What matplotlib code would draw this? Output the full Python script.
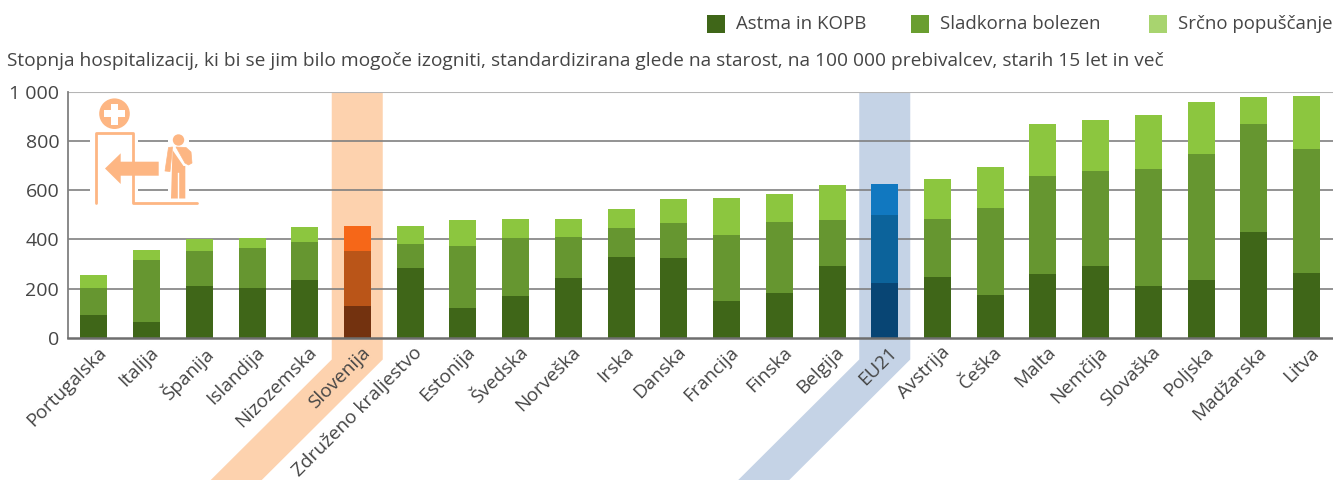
import matplotlib
matplotlib.use('Agg')
import matplotlib.pyplot as plt
import matplotlib.transforms as mtrans
import numpy as np
from matplotlib.patches import Polygon, Circle, Rectangle

plt.rcParams['font.family'] = ['Open Sans', 'DejaVu Sans']

countries = ['Portugalska', 'Italija', 'Španija', 'Islandija', 'Nizozemska', 'Slovenija',
             'Združeno kraljestvo', 'Estonija', 'Švedska', 'Norveška', 'Irska', 'Danska',
             'Francija', 'Finska', 'Belgija', 'EU21', 'Avstrija', 'Češka', 'Malta', 'Nemčija',
             'Slovaška', 'Poljska', 'Madžarska', 'Litva']
# cumulative tops of each segment
astma = [92, 64, 210, 202, 235, 129, 284, 121, 170, 243, 328, 324, 149, 182, 292, 222, 246, 172,
         258, 290, 209, 233, 429, 262]
sladkorna_top = [202, 316, 353, 365, 389, 353, 381, 373, 406, 410, 446, 467, 418, 471, 479, 499,
                 482, 526, 657, 677, 685, 746, 868, 767]
srcno_top = [255, 357, 402, 406, 450, 454, 455, 479, 483, 483, 524, 564, 569, 585, 621, 625, 645,
             693, 868, 885, 905, 958, 978, 982]
yticks = [0, 200, 400, 600, 800, 1000]
ylabels = ['0', '200', '400', '600', '800', '1 000']

W, H = 1333, 480
TEXT = '#454545'
greens = ['#3f6618', '#669630', '#8cc63f']
oranges = ['#73320f', '#ba5518', '#f66718']
blues = ['#084574', '#0c639b', '#1178c0']
legend_colors = ['#3f6618', '#6a9e30', '#a8d46f']


def px_x(x):
    return x / W


def px_y(y):
    return 1 - y / H


fig = plt.figure(figsize=(W / 100, H / 100), dpi=100)
ax = fig.add_axes([px_x(67.5), px_y(337.7), 1 - px_x(67.5), (337.7 - 92) / H])
x = np.arange(len(countries))
ax.set_xlim(-0.5, len(countries) - 0.5)
ax.set_ylim(0, 1000)

# highlight bands run from the top of the plot down and off to the lower left
for name, col in [('Slovenija', '#fdd2ae'), ('EU21', '#c5d3e6')]:
    cx = 93.5 + 52.75 * countries.index(name)
    l, r = cx - 25.5, cx + 25.5
    pts = [(l, 92), (r, 92), (r, 359.5), (r - 121, 480), (l - 121, 480), (l, 359.5)]
    fig.add_artist(Polygon([(px_x(a), px_y(b)) for a, b in pts], closed=True,
                           transform=fig.transFigure, fc=col, ec='none', zorder=0.5))

ax.patch.set_alpha(0)
ax.set_zorder(2)
for t in yticks[1:]:
    ax.axhline(t, color='#b5b5b5' if t == 1000 else '#808080', lw=1.5 if t == 1000 else 1.2,
               zorder=1)

# icon on its own full-figure axes, in pixel units; white blocks cut the gridlines
icon = fig.add_axes([0, 0, 1, 1], zorder=3)
icon.set_xlim(0, W)
icon.set_ylim(H, 0)
icon.axis('off')
ic = '#fdb683'
icon.add_patch(Rectangle((90, 130), 48, 75, fc='white', ec='none'))
icon.add_patch(Rectangle((168, 130), 21, 75, fc='white', ec='none'))
icon.add_patch(Circle((114.5, 113.7), 15.3, fc=ic, ec='none'))
icon.add_patch(Rectangle((104, 110.3), 21, 7, fc='white', ec='none'))
icon.add_patch(Rectangle((111, 103.5), 7, 21, fc='white', ec='none'))
icon.plot([95.7, 95.7, 133.3, 133.3, 197.3], [203, 132.7, 132.7, 202.7, 202.7], color=ic, lw=2.0,
          solid_capstyle='round', solid_joinstyle='round')
icon.add_patch(Polygon([(105, 168.5), (120.7, 153.3), (120.7, 161.7), (158.7, 161.7), (158.7, 175.7),
                        (120.7, 175.7), (120.7, 184)], closed=True, fc=ic, ec='none'))
icon.add_patch(Circle((178.5, 140), 5.7, fc=ic, ec='none'))
icon.add_patch(Polygon([(168.5, 147.5), (172.5, 147), (170, 171.5), (165, 171)], closed=True,
                       fc=ic, ec=ic, lw=0.5, joinstyle='round'))
icon.add_patch(Polygon([(176, 147), (186, 147.5), (191, 152), (192, 163), (188.5, 165), (185, 163)],
                       closed=True, fc=ic, ec=ic, lw=0.5, joinstyle='round'))
icon.add_patch(Polygon([(172.5, 150), (183.5, 166), (185.3, 166), (185.3, 198.5), (171, 198.5)],
                       closed=True, fc=ic, ec='none'))
icon.plot([178.3, 178.3], [173, 199], color='white', lw=1)

bw = 27 / 52.75
for i in range(len(countries)):
    cols = oranges if countries[i] == 'Slovenija' else blues if countries[i] == 'EU21' else greens
    ax.bar(x[i], astma[i], bw, color=cols[0], zorder=2)
    ax.bar(x[i], sladkorna_top[i] - astma[i], bw, bottom=astma[i], color=cols[1], zorder=2)
    ax.bar(x[i], srcno_top[i] - sladkorna_top[i], bw, bottom=sladkorna_top[i], color=cols[2], zorder=2)

for s in ['top', 'right']:
    ax.spines[s].set_visible(False)
ax.spines['bottom'].set_color('#6e6e6e')
ax.spines['bottom'].set_linewidth(1.8)
ax.spines['left'].set_color('#808080')
ax.spines['left'].set_linewidth(1.3)
ax.set_yticks(yticks)
ax.set_yticklabels(ylabels, fontsize=14, color=TEXT)
ax.tick_params(axis='y', length=0, pad=6)
ax.set_xticks(x)
ax.set_xticklabels(countries, rotation=45, ha='right', va='top', rotation_mode='anchor',
                   fontsize=13.7, color=TEXT)
ax.tick_params(axis='x', length=0, pad=4)
for lab in ax.get_xticklabels():
    lab.set_transform(lab.get_transform() + mtrans.ScaledTranslation(3 / 100, 0, fig.dpi_scale_trans))

fig.text(px_x(7), px_y(61), 'Stopnja hospitalizacij, ki bi se jim bilo mogoče izogniti, standardizirana '
         'glede na starost, na 100 000 prebivalcev, starih 15 let in več',
         fontsize=13.75, color=TEXT, va='center', ha='left')

legend_swatch_x = [707, 911, 1149]
legend_labels = ['Astma in KOPB', 'Sladkorna bolezen', 'Srčno popuščanje']
for lx, label, col in zip(legend_swatch_x, legend_labels, legend_colors):
    fig.add_artist(Rectangle((px_x(lx), px_y(33)), 18 / W, 18 / H, transform=fig.transFigure,
                             fc=col, ec='none'))
    fig.text(px_x(lx + 28.5), px_y(24), label, fontsize=13.4, color=TEXT, va='center', ha='left')

fig.savefig('out.png', dpi=100)
